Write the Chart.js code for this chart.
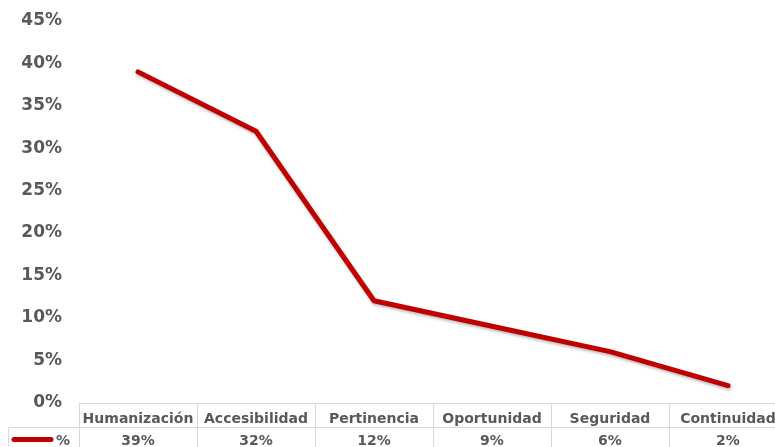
<!DOCTYPE html>
<html>
<head>
<meta charset="utf-8">
<script src="https://cdn.jsdelivr.net/npm/chart.js@4/dist/chart.umd.min.js"></script>
<style>
  html, body { margin: 0; padding: 0; background: #fff; overflow: hidden; }
  #graf { display: block; }
</style>
</head>
<body>
<canvas id="graf" width="787" height="447" style="width:787px;height:447px"></canvas>
<script>
const categories = ['Humanización', 'Accesibilidad', 'Pertinencia', 'Oportunidad', 'Seguridad', 'Continuidad'];
const percentages = [39, 32, 12, 9, 6, 2];
const seriesName = '%';
const yMax = 45;
const yStep = 5;

const gray = '#595959';
const red = '#C00000';
const border = '#d9d9d9';
const font = '"DejaVu Sans", Verdana, sans-serif';

// soft drop shadow under the line, like the office chart style
const lineShadow = {
  id: 'lineShadow',
  beforeDatasetDraw(chart) {
    const c = chart.ctx;
    c.save();
    c.shadowColor = 'rgba(0, 0, 0, 0.28)';
    c.shadowBlur = 3;
    c.shadowOffsetX = 1;
    c.shadowOffsetY = 2;
  },
  afterDatasetDraw(chart) {
    chart.ctx.restore();
  },
};

// data table under the plot: header row with categories, value row with legend key
const dataTable = {
  id: 'dataTable',
  afterDraw(chart) {
    const c = chart.ctx;
    const area = chart.chartArea;
    const xs = chart.scales.x;
    const n = categories.length;
    const colW = (area.right - area.left) / n;
    const top = Math.round(area.bottom) + 0.5;
    const mid = top + 24;
    const bottom = chart.height + 5;
    const keyLeft = 8.5;

    c.save();
    c.strokeStyle = border;
    c.lineWidth = 1;
    c.beginPath();
    c.moveTo(area.left, top);
    c.lineTo(area.right, top);
    c.moveTo(keyLeft, mid);
    c.lineTo(area.right, mid);
    c.moveTo(keyLeft, mid);
    c.lineTo(keyLeft, bottom);
    for (let i = 0; i <= n; i++) {
      const bx = Math.round(area.left + colW * i) + 0.5;
      c.moveTo(bx, top);
      c.lineTo(bx, bottom);
    }
    c.stroke();

    c.fillStyle = gray;
    c.font = 'bold 14px ' + font;
    c.textAlign = 'center';
    c.textBaseline = 'alphabetic';
    categories.forEach((cat, i) => {
      const cx = xs.getPixelForValue(i);
      c.fillText(cat, cx, top + 19.5);
      c.fillText(percentages[i] + '%', cx, mid + 17);
    });

    // legend key
    c.strokeStyle = red;
    c.lineWidth = 5;
    c.lineCap = 'round';
    c.beginPath();
    c.moveTo(14, mid + 12);
    c.lineTo(51, mid + 12);
    c.stroke();
    c.textAlign = 'left';
    c.fillText(seriesName, 56, mid + 17);
    c.restore();
  },
};

const data = {
  labels: categories,
  datasets: [
    {
      label: seriesName,
      data: percentages,
      borderColor: red,
      borderWidth: 5,
      borderCapStyle: 'round',
      borderJoinStyle: 'round',
      pointRadius: 0,
      tension: 0,
      fill: false,
    },
  ],
};

const config = {
  type: 'line',
  data: data,
  options: {
    responsive: false,
    devicePixelRatio: 1,
    animation: false,
    layout: {
      padding: { left: 0, right: 0, top: 21, bottom: 44.5 },
    },
    plugins: {
      legend: { display: false },
      tooltip: { enabled: false },
    },
    scales: {
      x: {
        display: false,
        offset: true,
      },
      y: {
        min: 0,
        max: yMax,
        grid: { display: false, drawTicks: false },
        border: { display: false },
        afterFit: (scale) => {
          scale.width = 79;
        },
        ticks: {
          stepSize: yStep,
          padding: 17,
          color: gray,
          // small lineHeight keeps the label padding from pushing the plot top down
          font: { family: font, size: 17, weight: 'bold', lineHeight: 0.4 },
          callback: (value) => {
            return value + '%';
          },
        },
      },
    },
  },
  plugins: [lineShadow, dataTable],
};

const ctx = document.getElementById('graf').getContext('2d');
const myChart = new Chart(ctx, config);
</script>
</body>
</html>
